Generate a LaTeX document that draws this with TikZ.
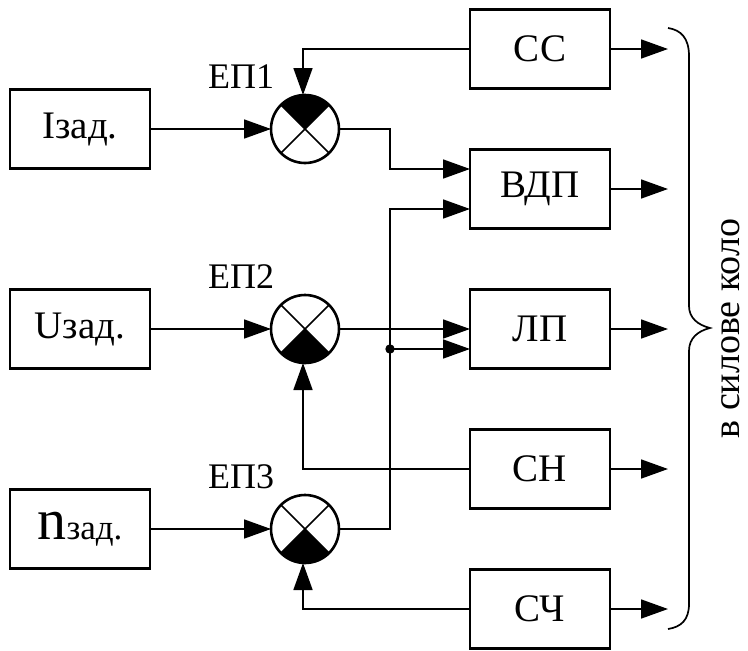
\documentclass[tikz,border=0pt]{standalone}
\usepackage{fontspec}
\setmainfont{Liberation Serif}
\usetikzlibrary{arrows.meta}
\tikzset{
	blockbox/.style={draw, line width=2.8pt, minimum width=140pt, minimum height=79pt, inner sep=0pt, outer sep=0pt, font=\fontsize{39}{39}\selectfont},
	sumcircle/.style={draw, circle, line width=2.6pt, minimum size=68pt, inner sep=0pt, outer sep=0pt},
	sumlabel/.style={inner sep=0pt, anchor=base west, font=\fontsize{36}{36}\selectfont},
	wire/.style={line width=1.7pt, -{Triangle[length=27pt,width=19pt]}}
}
\begin{document}
\begin{tikzpicture}[x=1pt,y=-1pt]
		\useasboundingbox (0,0) rectangle (748,651);
		% blocks on the right
		\foreach \id/\txt/\y in {cc/СС/49, vdp/ВДП/189, lp/ЛП/329, sn/СН/469, sch/СЧ/609}
		{
			\node[blockbox] (\id) at (540,\y) {\txt};
			\coordinate (\id out) at (668,\y);
			\draw[wire] (\id.east) -- (\id out);
		}
		% setpoint blocks and summing points
		\foreach \id/\big/\y/\num/\yy in {i/I/129/1/88, u/U/329/2/288, n/{\raisebox{-3pt}{\fontsize{58}{58}\selectfont n}}/529/3/488}
		{
			\node[blockbox] (\id zad) at (80,\y) {\big{\ifnum\num=3 \fontsize{35}{35}\selectfont\raisebox{-3pt}{зад.}\else зад.\fi}};
			\node[sumcircle] (ep\num) at (305,\y) {};
			\node[sumlabel] (eplabel\num) at (208,\yy) {ЕП\num};
			\draw[wire] (\id zad.east) -- (ep\num.west);
			\draw[line width=1.7pt] (ep\num.north west) -- (ep\num.south east);
			\draw[line width=1.7pt] (ep\num.north east) -- (ep\num.south west);
		}
		% black sectors
		\fill (ep1.center) -- (ep1.north east) arc[start angle=45, end angle=135, radius=34pt] -- cycle;
		\fill (ep2.center) -- (ep2.south west) arc[start angle=225, end angle=315, radius=34pt] -- cycle;
		\fill (ep3.center) -- (ep3.south east) arc[start angle=-45, end angle=-135, radius=34pt] -- cycle;
		% inputs of the middle blocks
		\coordinate (vdpa) at (470,169);
		\coordinate (vdpb) at (470,209);
		\coordinate (lpb) at (470,349);
		\coordinate (bus) at (390,349);
		\draw[wire] (ep1.east) -| (bus |- vdpa) -- (vdpa);
		\draw[wire] (ep3.east) -| (bus) |- (vdpb);
		\draw[wire] (ep2.east) -- (lp.west);
		\draw[wire] (bus) -- (lpb);
		\fill (bus) circle (4.7pt);
		% feedback
		\draw[wire] (cc.west) -| ([xshift=-2pt]ep1.north);
		\draw[wire] (sn.west) -| ([xshift=-2pt]ep2.south);
		\draw[wire] (sch.west) -| ([xshift=-2pt]ep3.south);
		% brace
		\coordinate (bracetop) at (668,28);
		\coordinate (bracetip) at (710,328);
		\coordinate (bracebot) at (668,629);
		\draw[line width=1.7pt] (bracetop) .. controls (681,30) and (689,38) .. (689,56) -- (689,306)
			.. controls (689,318) and (698,325) .. (bracetip)
			.. controls (698,331) and (689,338) .. (689,351) -- (689,604)
			.. controls (689,620) and (681,627) .. (bracebot);
		\node[rotate=90, inner sep=0pt, anchor=base, font=\fontsize{38}{38}\selectfont] (powerlabel) at (739,328.5) {в силове коло};
	\end{tikzpicture}
\end{document}
